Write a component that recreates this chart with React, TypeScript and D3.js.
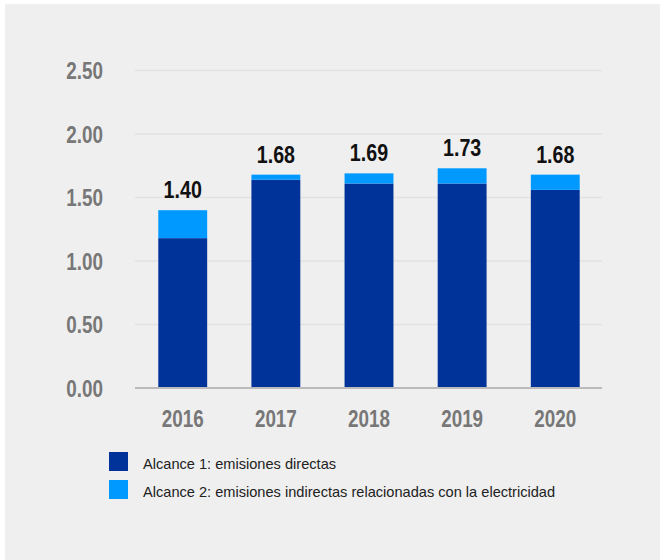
import React, { useEffect, useRef } from 'react'
import * as d3 from 'd3'

const years = ['2016', '2017', '2018', '2019', '2020']
const scope1 = [1.18, 1.64, 1.61, 1.61, 1.56]
const scope2 = [0.22, 0.04, 0.08, 0.12, 0.12]
const yTicks = [0, 0.5, 1, 1.5, 2, 2.5]
const legendLabels = [
  'Alcance 1: emisiones directas',
  'Alcance 2: emisiones indirectas relacionadas con la electricidad',
]

const COLORS = ['#003399', '#0099ff']
// no narrow face installed, so squeeze Liberation Sans like Arial Narrow
const FONT = "'Liberation Sans', Arial, sans-serif"
const NARROW = 0.82

const App: React.FC = () => {
  const svgRef = useRef<SVGSVGElement>(null)

  useEffect(() => {
    const svg = d3.select(svgRef.current)
    svg.selectAll('*').remove()

    const width = 660
    const height = 560

    svg.append('rect').attr('width', width).attr('height', height).attr('fill', '#ffffff')
    svg
      .append('rect')
      .attr('x', 5)
      .attr('y', 4)
      .attr('width', width - 5)
      .attr('height', height - 4)
      .attr('fill', '#efefef')

    const x = d3
      .scaleBand()
      .domain(years)
      .range([135, 603])
      .paddingInner(0.475)
      .paddingOuter(0.25)

    const y = d3.scaleLinear().domain([0, 2.5]).range([388, 70.5])

    const rows = years.map((year, i) => ({ year, s1: scope1[i], s2: scope2[i] }))
    const stacked = d3.stack<any>().keys(['s1', 's2'])(rows)

    const at = (px: number, py: number) => `translate(${px},${py}) scale(${NARROW},1)`

    // gridlines
    svg
      .append('g')
      .selectAll('line')
      .data(yTicks.filter((d) => d > 0))
      .enter()
      .append('line')
      .attr('x1', 135)
      .attr('x2', 602)
      .attr('y1', (d) => y(d))
      .attr('y2', (d) => y(d))
      .attr('stroke', '#e2e2e2')
      .attr('stroke-width', 1.5)

    // y labels
    svg
      .append('g')
      .selectAll('text')
      .data(yTicks)
      .enter()
      .append('text')
      .attr('transform', (d) => at(103, y(d)))
      .attr('dy', '0.37em')
      .attr('text-anchor', 'end')
      .attr('font-family', FONT)
      .attr('font-weight', 'bold')
      .attr('font-size', 23)
      .attr('fill', '#777777')
      .text((d) => d.toFixed(2))

    // bars
    svg
      .append('g')
      .selectAll('g')
      .data(stacked)
      .enter()
      .append('g')
      .attr('fill', (_, i) => COLORS[i])
      .selectAll('rect')
      .data((d) => d)
      .enter()
      .append('rect')
      .attr('x', (d) => x(d.data.year)!)
      .attr('y', (d) => y(d[1]))
      .attr('width', x.bandwidth())
      .attr('height', (d) => y(d[0]) - y(d[1]))

    // x axis line
    svg
      .append('line')
      .attr('x1', 135)
      .attr('x2', 602)
      .attr('y1', y(0))
      .attr('y2', y(0))
      .attr('stroke', '#bbbbbb')
      .attr('stroke-width', 2)

    // x labels
    svg
      .append('g')
      .selectAll('text')
      .data(years)
      .enter()
      .append('text')
      .attr('transform', (d) => at(x(d)! + x.bandwidth() / 2, 427))
      .attr('text-anchor', 'middle')
      .attr('font-family', FONT)
      .attr('font-weight', 'bold')
      .attr('font-size', 23)
      .attr('fill', '#777777')
      .text((d) => d)

    // totals
    svg
      .append('g')
      .selectAll('text')
      .data(rows)
      .enter()
      .append('text')
      .attr('transform', (d) => at(x(d.year)! + x.bandwidth() / 2, y(d.s1 + d.s2) - 12))
      .attr('text-anchor', 'middle')
      .attr('font-family', FONT)
      .attr('font-weight', 'bold')
      .attr('font-size', 24)
      .attr('fill', '#111111')
      .text((d) => (d.s1 + d.s2).toFixed(2))

    // legend
    const legend = svg
      .append('g')
      .selectAll('g')
      .data(legendLabels)
      .enter()
      .append('g')
      .attr('transform', (_, i) => `translate(109, ${452 + i * 28})`)

    legend
      .append('rect')
      .attr('width', 19)
      .attr('height', 19)
      .attr('fill', (_, i) => COLORS[i])

    legend
      .append('text')
      .attr('x', 34)
      .attr('y', 16.5)
      .attr('font-family', FONT)
      .attr('font-size', 14.6)
      .attr('fill', '#222222')
      .text((d) => d)
  }, [])

  return (
    <div>
      <style>{'body { margin: 0; }'}</style>
      <svg ref={svgRef} width={660} height={560} style={{ display: 'block' }}></svg>
    </div>
  )
}

export default App
